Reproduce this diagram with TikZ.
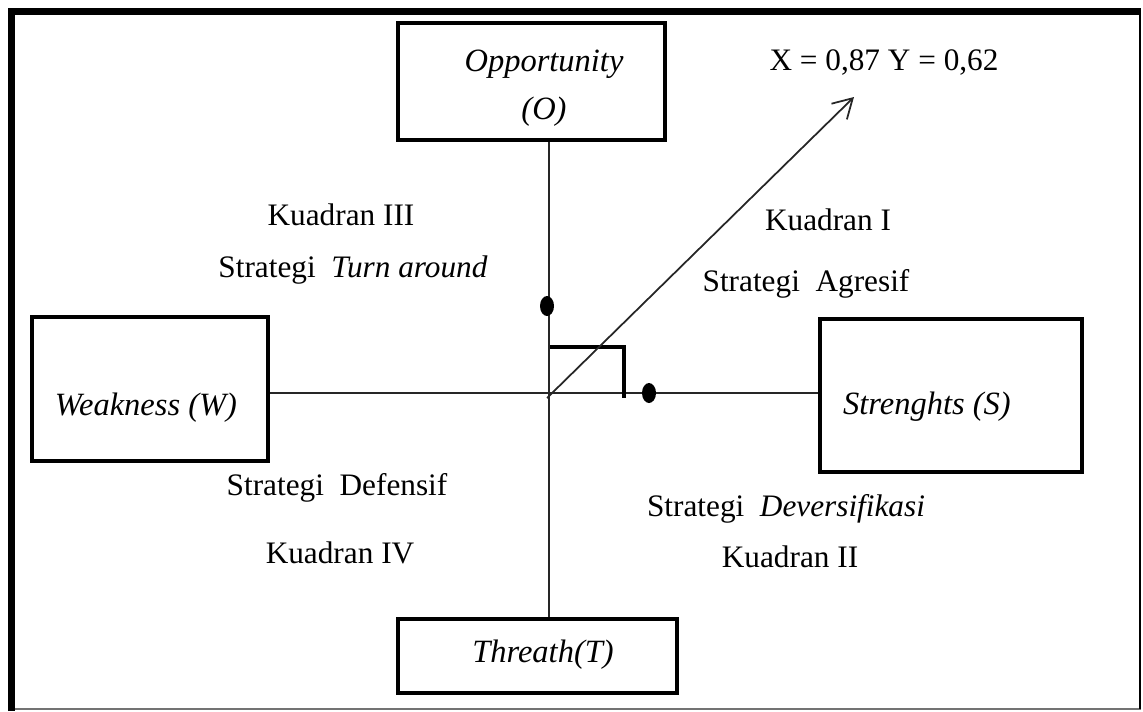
\documentclass[tikz,border=0pt]{standalone}
\usepackage{fontspec}
\setmainfont{Liberation Serif}
\usetikzlibrary{arrows.meta,shapes.geometric}

\tikzset{
  kotak/.style={draw, line width=2.2pt, inner sep=0pt},
  teks/.style={font=\fontsize{17.8}{21}\selectfont, inner sep=0pt},
  namakotak/.style={font=\fontsize{18.5}{27}\selectfont\itshape, inner sep=0pt, align=center},
  titik/.style={ellipse, fill, inner sep=0pt, minimum width=0.28cm, minimum height=0.4cm},
  sumbu/.style={line width=1pt, black!85},
}

\begin{document}
\begin{tikzpicture}[x=0.02cm, y=-0.02cm]
		\useasboundingbox (0,0) rectangle (1143,711);
		% bingkai luar
		\draw[line width=1pt, black!55] (11.5,709) -- (1141,709);
		\draw[line width=1.2pt] (1140,11.5) -- (1140,709);
		\draw[line width=4.5pt] (11.5,711) -- (11.5,11.5) -- (1141,11.5);

		% kotak SWOT
		\node[kotak, minimum width=5.34cm, minimum height=2.34cm] (opp) at (531.5,81.5) {};
		\node[kotak, minimum width=4.72cm, minimum height=2.88cm] (weak) at (150,389) {};
		\node[kotak, minimum width=5.24cm, minimum height=3.06cm] (str) at (951,395.5) {};
		\node[kotak, minimum width=5.58cm, minimum height=1.48cm] (thr) at (537.5,656) {};

		\node[namakotak] (oppteks) at (544,88) {Opportunity\\(O)};
		\node[namakotak] (weakteks) at (146,408) {Weakness (W)};
		\node[namakotak] (strteks) at (927,407) {Strenghts (S)};
		\node[namakotak] (thrteks) at (543,655) {Threath(T)};

		% sumbu
		\coordinate (pusat) at (549,393);
		\draw[sumbu] (opp.south -| pusat) -- (thr.north -| pusat);
		\draw[sumbu] (weak.east |- pusat) -- (str.west |- pusat);

		% posisi
		\node[titik] (tO) at (547,306) {};
		\node[titik] (tS) at (649,393) {};
		\draw[line width=2pt] (550,347) -- (624,347) -- (624,398);
		\coordinate (pangkal) at (547,398);
		\coordinate (ujung) at (854,97);
		\draw[sumbu, -{Straight Barb[length=3.8mm, width=4.4mm]}] (pangkal) -- (ujung);
		\node[teks] (nilai) at (884,63) {X = 0,87 Y = 0,62};

		% kuadran
		\node[teks] (k3) at (341,215) {Kuadran III};
		\node[teks] (s3) at (353,270) {Strategi\ \ \textit{Turn around}};
		\node[teks] (k1) at (828,220) {Kuadran I};
		\node[teks] (s1) at (806,284) {Strategi\ \ Agresif};
		\node[teks] (s4) at (337,488) {Strategi\ \ Defensif};
		\node[teks] (k4) at (340,553) {Kuadran IV};
		\node[teks] (s2) at (786,509) {Strategi\ \ \textit{Deversifikasi}};
		\node[teks] (k2) at (790,557) {Kuadran II};
	\end{tikzpicture}
\end{document}
